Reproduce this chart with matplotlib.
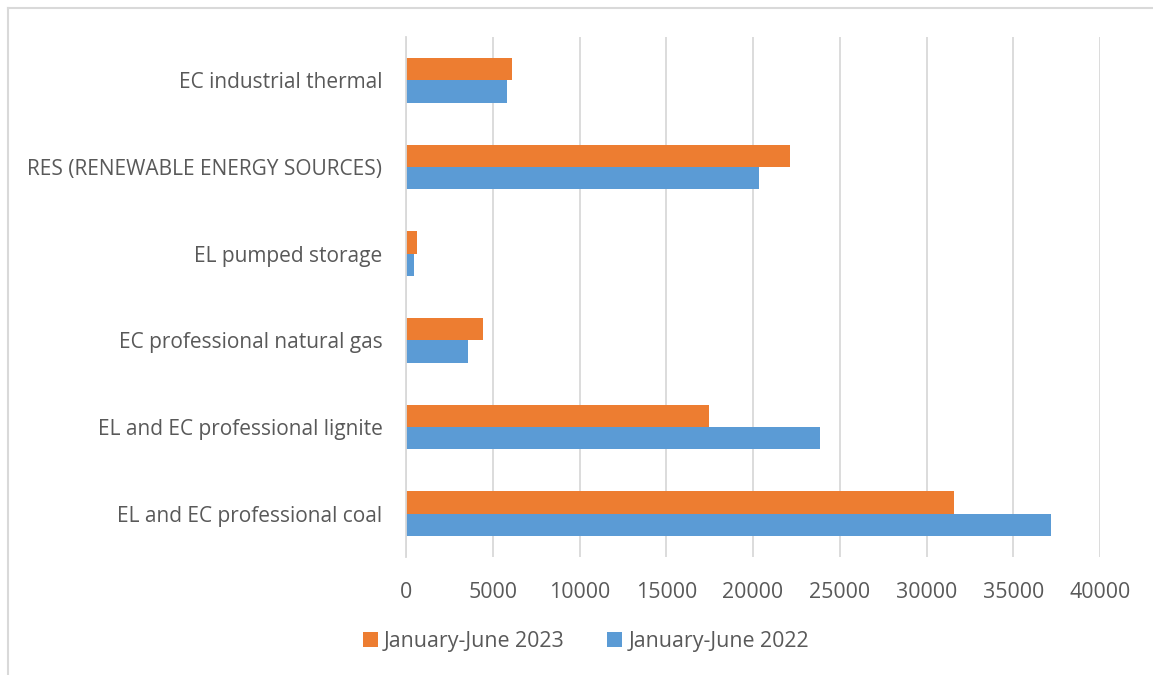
import matplotlib.pyplot as plt
import numpy as np
from matplotlib.lines import Line2D

categories = ["EL and EC professional coal", "EL and EC professional lignite",
              "EC professional natural gas", "EL pumped storage",
              "RES (RENEWABLE ENERGY SOURCES)", "EC industrial thermal"]
h1_2023 = [31560, 17490, 4420, 620, 22150, 6130]
h1_2022 = [37200, 23840, 3560, 480, 20320, 5810]
xticks = [0, 5000, 10000, 15000, 20000, 25000, 30000, 35000, 40000]

plt.rcParams['font.family'] = ['Open Sans', 'DejaVu Sans']

fig = plt.figure(figsize=(11.53, 6.75), dpi=100)
W, H = 1153, 675
ax = fig.add_axes([406 / W, 1 - 557 / H, 694 / W, 520 / H])

y = np.arange(len(categories))
bh = 0.259
ax.barh(y + bh / 2, h1_2023, height=bh, color="#ED7D31", label="January-June 2023")
ax.barh(y - bh / 2, h1_2022, height=bh, color="#5B9BD5", label="January-June 2022")

ax.set_xlim(0, 40000)
ax.set_ylim(-0.5, len(categories) - 0.5)
ax.set_xticks(xticks)
ax.set_yticks(y)
ax.set_yticklabels(categories)
ax.grid(axis="x", color="#d9d9d9", linewidth=1.3)
ax.set_axisbelow(True)
for s in ["top", "right", "bottom"]:
    ax.spines[s].set_visible(False)
ax.spines["left"].set_color("#d9d9d9")
ax.spines["left"].set_linewidth(1.3)
ax.tick_params(length=0, labelcolor="#595959")
ax.tick_params(axis="y", pad=17, labelsize=15)
ax.tick_params(axis="x", pad=18, labelsize=15.4)

leg = ax.legend(loc="center", bbox_to_anchor=((586 - 406) / 694, -(641 - 557) / 520), ncol=2,
                frameon=False, fontsize=15.4, labelcolor="#595959",
                handlelength=0.7, handleheight=0.7, columnspacing=2.0, handletextpad=0.3)

# chart border, top and left edges
fig.lines.append(Line2D([8 / W, 8 / W], [0, 1 - 8 / H], transform=fig.transFigure,
                        color="#d9d9d9", linewidth=1.5))
fig.lines.append(Line2D([8 / W, 1], [1 - 8 / H, 1 - 8 / H], transform=fig.transFigure,
                        color="#d9d9d9", linewidth=1.5))

fig.savefig("out.png", dpi=100)
